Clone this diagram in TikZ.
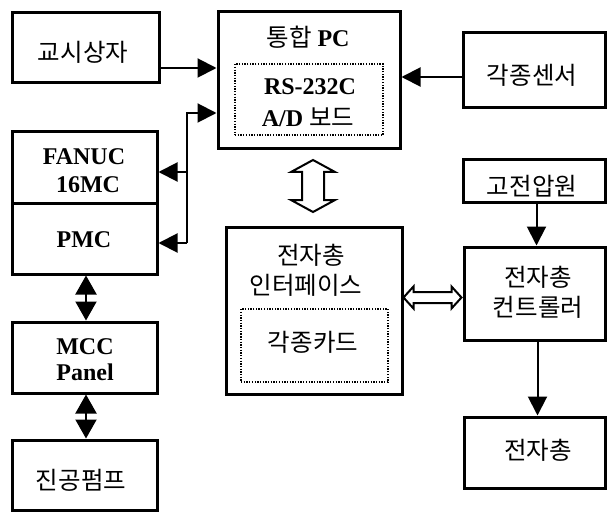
\documentclass[tikz,border=0pt]{standalone}
\usepackage{fontspec}
\setmainfont{Liberation Serif}
\newfontfamily\kr{Noto Sans CJK KR}
\usetikzlibrary{arrows.meta}

\tikzset{
  box/.style={draw, line width=3pt, inner sep=0pt},
  inbox/.style={draw, line width=1.3pt, dash pattern=on 1.3pt off 1.4pt, inner sep=0pt},
  ko/.style={font=\kr\fontsize{24.5}{28}\selectfont, inner sep=0pt},
  la/.style={font=\bfseries\fontsize{24}{28}\selectfont, inner sep=0pt},
  arr/.style={line width=2pt, -{Triangle[length=19pt,width=19pt]}},
  darr/.style={line width=2pt, {Triangle[length=19pt,width=21pt]}-{Triangle[length=19pt,width=21pt]}},
  hollow/.style={draw, line width=2pt, fill=white, line join=miter},
}
\newcommand{\hang}[1]{{\kr\mdseries\fontsize{24.5}{28}\selectfont #1}}

\begin{document}
\begin{tikzpicture}[x=1pt, y=-1pt]
\useasboundingbox (0,0) rectangle (607,513);

% boxes
\node[box, minimum width=147, minimum height=70] (teach) at (85.5,48) {};
\node[box, minimum width=182, minimum height=137] (pc) at (309,80.5) {};
\node[inbox, minimum width=148, minimum height=71] (pcin) at (309,99.5) {};
\node[box, minimum width=142, minimum height=75] (sensor) at (534,70.5) {};
\node[box, minimum width=145, minimum height=71] (fanuc) at (84.5,167.5) {};
\node[box, minimum width=145, minimum height=71] (pmc) at (84.5,238.5) {};
\node[box, minimum width=145, minimum height=71] (mcc) at (84.5,357.5) {};
\node[box, minimum width=145, minimum height=70] (pump) at (84.5,475) {};
\node[box, minimum width=176, minimum height=167] (iface) at (314,310.5) {};
\node[inbox, minimum width=147, minimum height=73] (card) at (314.5,345.5) {};
\node[box, minimum width=142, minimum height=42] (hv) at (534,181) {};
\node[box, minimum width=141, minimum height=93] (ctrl) at (534.5,293.5) {};
\node[box, minimum width=141, minimum height=71] (gun) at (534.5,452.5) {};

% labels
\node[ko] (t-teach) at (83,52) {교시상자};
\node[la] (t-pc) at (308,37) {\hang{통합}\ PC};
\node[la] (t-rs) at (310,87) {RS-232C};
\node[la] (t-ad) at (308,117) {A/D \hang{보드}};
\node[ko] (t-sensor) at (532,75) {각종센서};
\node[la] (t-fanuc) at (84,157) {FANUC};
\node[la] (t-16mc) at (88,185) {16MC};
\node[la] (t-pmc) at (84,240) {PMC};
\node[la] (t-mcc) at (85,347) {MCC};
\node[la] (t-panel) at (85,372) {Panel};
\node[ko] (t-pump) at (81,480) {진공펌프};
\node[ko] (t-gun1) at (311,255) {전자총};
\node[ko] (t-iface) at (306,285) {인터페이스};
\node[ko] (t-card) at (313,342) {각종카드};
\node[ko] (t-hv) at (532,186) {고전압원};
\node[ko] (t-ctrl1) at (538,277) {전자총};
\node[ko] (t-ctrl2) at (538,307) {컨트롤러};
\node[ko] (t-gun) at (538,450) {전자총};

% signal lines into the PC
\draw[arr] ([yshift=-20pt]teach.east) coordinate (a1) -- (a1 -| pc.west);
\draw[arr] ([yshift=-6.5pt]sensor.west) coordinate (a2) -- (a2 -| pc.east);

% bus between the CNC and the PC
\coordinate (bt) at (187,113);
\coordinate (bf) at (187,172);
\coordinate (bb) at (187,243);
\draw[arr] (bb) -- (bt) -- (bt -| pc.west);
\draw[arr] (bf) -- (bf -| fanuc.east);
\draw[arr] (bb) -- (bb -| pmc.east);

% two-way links down the left column
\draw[darr] ([xshift=1.5pt]pmc.south) -- ([xshift=1.5pt]mcc.north);
\draw[darr] ([xshift=1.5pt]mcc.south) -- ([xshift=1.5pt]pump.north);

% hollow data arrows
\coordinate (va) at (313,186);
\draw[hollow] (va) ++(0,-26) -- ++(22,12) -- ++(-11,0) -- ++(0,28) -- ++(11,0)
  -- ++(-22,12) -- ++(-22,-12) -- ++(11,0) -- ++(0,-28) -- ++(-11,0) -- cycle;
\coordinate (ha) at (432.5,297.5);
\draw[hollow] (ha) ++(-29,0) -- ++(10,-11) -- ++(0,5.5) -- ++(38,0) -- ++(0,-5.5)
  -- ++(10,11) -- ++(-10,11) -- ++(0,-5.5) -- ++(-38,0) -- ++(0,5.5) -- cycle;

% high-voltage supply and gun controller
\draw[arr] ([xshift=2.5pt]hv.south) -- ([xshift=2pt]ctrl.north);
\draw[arr] ([xshift=3pt]ctrl.south) -- ([xshift=3pt]gun.north);
\end{tikzpicture}
\end{document}
